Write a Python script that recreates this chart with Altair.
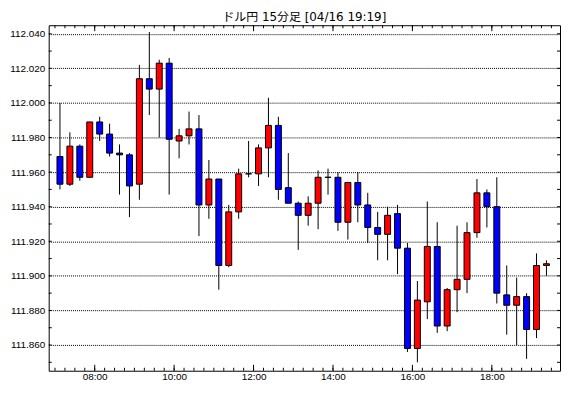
import altair as alt
import pandas as pd

# ---- data ----
times = ["07:00", "07:15", "07:30", "07:45", "08:00", "08:15", "08:30", "08:45",
         "09:00", "09:15", "09:30", "09:45", "10:00", "10:15", "10:30", "10:45",
         "11:00", "11:15", "11:30", "11:45", "12:00", "12:15", "12:30", "12:45",
         "13:00", "13:15", "13:30", "13:45", "14:00", "14:15", "14:30", "14:45",
         "15:00", "15:15", "15:30", "15:45", "16:00", "16:15", "16:30", "16:45",
         "17:00", "17:15", "17:30", "17:45", "18:00", "18:15", "18:30", "18:45",
         "19:00", "19:15"]
opens = [111.969, 111.953, 111.975, 111.957, 111.989, 111.982, 111.971, 111.970,
         111.953, 112.014, 112.008, 112.023, 111.978, 111.981, 111.985, 111.941,
         111.956, 111.906, 111.937, 111.959, 111.959, 111.974, 111.987, 111.951,
         111.942, 111.935, 111.942, 111.957, 111.957, 111.931, 111.954, 111.941,
         111.928, 111.924, 111.936, 111.916, 111.858, 111.885, 111.917, 111.871,
         111.892, 111.898, 111.925, 111.948, 111.940, 111.889, 111.883, 111.888,
         111.869, 111.906]
highs = [112.000, 111.983, 111.976, 111.989, 111.992, 111.988, 111.976, 111.971,
         112.022, 112.041, 112.025, 112.026, 111.985, 111.995, 111.993, 111.967,
         111.956, 111.941, 111.962, 111.978, 111.976, 112.003, 111.992, 111.971,
         111.943, 111.946, 111.961, 111.962, 111.960, 111.954, 111.960, 111.948,
         111.937, 111.940, 111.941, 111.919, 111.897, 111.943, 111.931, 111.893,
         111.929, 111.931, 111.956, 111.950, 111.957, 111.906, 111.899, 111.890,
         111.913, 111.909]
lows = [111.950, 111.952, 111.955, 111.957, 111.978, 111.969, 111.947, 111.934,
        111.944, 111.993, 111.980, 111.947, 111.968, 111.976, 111.923, 111.933,
        111.892, 111.905, 111.933, 111.957, 111.952, 111.957, 111.944, 111.942,
        111.915, 111.929, 111.927, 111.947, 111.926, 111.921, 111.931, 111.919,
        111.909, 111.909, 111.901, 111.856, 111.850, 111.875, 111.867, 111.868,
        111.879, 111.890, 111.922, 111.928, 111.884, 111.866, 111.860, 111.852,
        111.864, 111.900]
closes = [111.953, 111.975, 111.957, 111.989, 111.982, 111.971, 111.970, 111.952,
          112.014, 112.008, 112.023, 111.979, 111.981, 111.985, 111.941, 111.956,
          111.906, 111.937, 111.959, 111.959, 111.974, 111.987, 111.950, 111.942,
          111.935, 111.942, 111.957, 111.957, 111.931, 111.954, 111.941, 111.928,
          111.924, 111.935, 111.916, 111.858, 111.886, 111.917, 111.871, 111.892,
          111.898, 111.925, 111.948, 111.940, 111.890, 111.883, 111.888, 111.869,
          111.906, 111.907]

x_labels = ["08:00", "10:00", "12:00", "14:00", "16:00", "18:00"]
y_labels = [111.860, 111.880, 111.900, 111.920, 111.940, 111.960, 111.980,
            112.000, 112.020, 112.040]
y_minor = [111.850, 111.860, 111.870, 111.880, 111.890, 111.900, 111.910,
           111.920, 111.930, 111.940, 111.950, 111.960, 111.970, 111.980,
           111.990, 112.000, 112.010, 112.020, 112.030, 112.040]
title_text = "ドル円 15分足 [04/16 19:19]"


def to_min(s):
    h, m = s.split(":")
    return int(h) * 60 + int(m)


df = pd.DataFrame({
    "t": [to_min(s) + 7.5 for s in times],
    "open": opens, "high": highs, "low": lows, "close": closes,
})
major = [to_min(s) for s in x_labels]
minor_x = pd.DataFrame({"t": list(range(to_min(times[0]), to_min(times[-1]) + 16, 15))})
major_x = pd.DataFrame({"t": major})
minor_y = pd.DataFrame({"v": y_minor})

W, H = 515, 348
FONT = "Liberation Sans"

xs = alt.Scale(domain=[410.5, 1183], nice=False, zero=False, padding=0)
ys = alt.Scale(domain=[111.84513, 112.04494], nice=False, zero=False, padding=0)

label_expr = " : ".join(f"datum.value == {v} ? '{l}'" for v, l in zip(major, x_labels)) + " : ''"
x_axis = alt.Axis(values=major, labelExpr=label_expr, grid=False, ticks=False,
                  domain=False, title=None, labelPadding=1, labelFontSize=10,
                  labelFont=FONT, labelColor="black")
y_axis = alt.Axis(values=y_labels, format=".3f", grid=True, gridDash=[1, 1],
                  gridColor="black", gridOpacity=1, gridWidth=1, ticks=False,
                  domain=False, title=None, labelPadding=4, labelFontSize=10,
                  labelFont=FONT, labelColor="black")

X = alt.X("t:Q", scale=xs, axis=x_axis)

wicks = alt.Chart(df).mark_rule(color="black", strokeWidth=1).encode(
    x=X,
    y=alt.Y("low:Q", scale=ys, axis=y_axis),
    y2="high:Q",
)
bodies = alt.Chart(df).mark_bar(size=6, stroke="black", strokeWidth=1).encode(
    x=X,
    y=alt.Y("open:Q", scale=ys, axis=y_axis),
    y2="close:Q",
    color=alt.condition("datum.close >= datum.open", alt.value("#ff0000"), alt.value("#0000ff")),
)

def xticks(data, y0, y1):
    return alt.Chart(data).mark_rule(color="black", strokeWidth=1).encode(
        x=X, y=alt.value(y0), y2=alt.value(y1))

def yticks(x0, x1):
    return alt.Chart(minor_y).mark_rule(color="black", strokeWidth=1).encode(
        y=alt.Y("v:Q", scale=ys, axis=y_axis), x=alt.value(x0), x2=alt.value(x1))

chart = alt.layer(
    wicks, bodies,
    xticks(minor_x, H, H - 3), xticks(major_x, H, H - 6),
    xticks(minor_x, 0, 3), xticks(major_x, 0, 6),
    yticks(0, 3), yticks(W, W - 3),
).properties(
    width=W, height=H,
    autosize="none",
    padding={"left": 41, "top": 16, "right": 2, "bottom": 11},
    title=alt.TitleParams(title_text, fontSize=12, font="DejaVu Sans, Noto Sans CJK JP",
                          fontWeight="normal", anchor="middle", offset=1, color="black"),
).configure_view(stroke="black", strokeWidth=1)

chart.save("out.html", embed_options={"renderer": "svg", "actions": False})
